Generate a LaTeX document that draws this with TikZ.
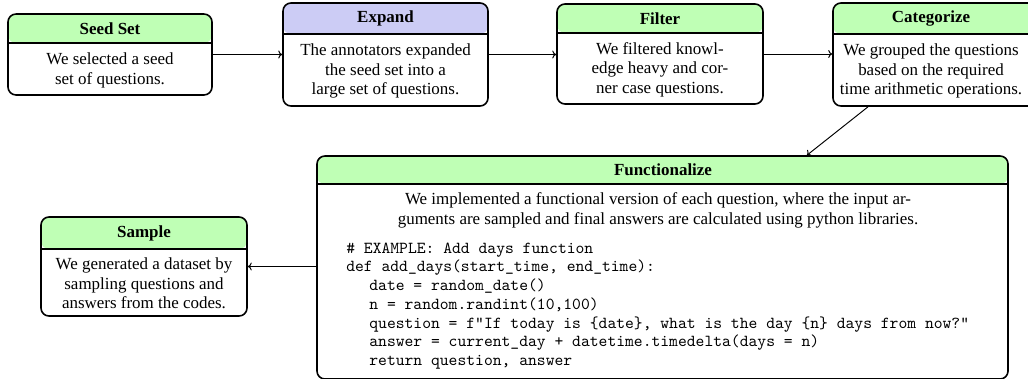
\documentclass[tikz,border=0pt]{standalone}
\usepackage{fontspec}
\setmainfont{Liberation Serif}
\usetikzlibrary{calc,arrows.meta}
\definecolor{hdrgreen}{RGB}{191,255,181}
\definecolor{hdrblue}{RGB}{204,204,245}
\tikzset{
  stagebox/.style 2 args={draw, line width=1pt, rounded corners=5pt, inner sep=0pt,
    path picture={\fill[#1] (path picture bounding box.north west) rectangle ([yshift=-#2]path picture bounding box.north east);
      \draw[line width=1pt] ([yshift=-#2]path picture bounding box.north west) -- ([yshift=-#2]path picture bounding box.north east);}},
  hdrtext/.style={font=\fontsize{10.6}{12.2}\selectfont\bfseries, inner sep=0pt},
  bodytext/.style={align=center, inner sep=0pt, font=\fontsize{10.6}{12.2}\selectfont},
  codetext/.style={align=left, inner sep=0pt, font=\fontsize{10.5}{11.7}\selectfont\ttfamily},
  flow/.style={-{To[length=2.5pt,width=5pt]}, line width=0.6pt},
}
\newcommand{\ind}{\hspace*{14.4pt}}
\begin{document}
\begin{tikzpicture}[x=0.625pt,y=-0.625pt]
\useasboundingbox (0,0) rectangle (1028,378);
% boxes
\node[stagebox={hdrgreen}{18.1pt}, minimum width=127.5pt, minimum height=50.6pt] (seed) at (110,54.5) {};
\node[stagebox={hdrblue}{19.4pt}, minimum width=128.1pt, minimum height=64.4pt] (expand) at (385.5,54.5) {};
\node[stagebox={hdrgreen}{18.1pt}, minimum width=128.75pt, minimum height=62.5pt] (filter) at (660,54) {};
\node[stagebox={hdrgreen}{19.4pt}, minimum width=128.75pt, minimum height=64.4pt] (cat) at (936,54.5) {};
\node[stagebox={hdrgreen}{17.5pt}, minimum width=431.9pt, minimum height=139.4pt] (func) at (662.5,267.5) {};
\node[stagebox={hdrgreen}{20pt}, minimum width=128.75pt, minimum height=61.9pt] (sample) at (144,266.5) {};
% headers
\node[hdrtext] (seedh) at (110,28.5) {Seed Set};
\node[hdrtext] (expandh) at (385.5,18.5) {Expand};
\node[hdrtext] (filterh) at (660,18.5) {Filter};
\node[hdrtext] (cath) at (931,18.5) {Categorize};
\node[hdrtext] (funch) at (663,170) {Functionalize};
\node[hdrtext] (sampleh) at (144,233) {Sample};
% bodies
\node[bodytext] (seedb) at (110,70.5) {We selected a seed\\set of questions.};
\node[bodytext] (expandb) at (385.5,71) {The annotators expanded\\the seed set into a\\large set of questions.};
\node[bodytext] (filterb) at (660,69.5) {We filtered knowl-\\edge heavy and cor-\\ner case questions.};
\node[bodytext] (catb) at (931,71) {We grouped the questions\\based on the required\\time arithmetic operations.};
\node[bodytext] (funcb) at (658,210.5) {We implemented a functional version of each question, where the input ar-\\guments are sampled and final answers are calculated using python libraries.};
\node[codetext, anchor=west] (code) at (346,306) {\# EXAMPLE: Add days function\\
def add\_days(start\_time, end\_time):\\
\ind date = random\_date()\\
\ind n = random.randint(10,100)\\
\ind question = f"If today is \{date\}, what is the day \{n\} days from now?"\\
\ind answer = current\_day + datetime.timedelta(days = n)\\
\ind return question, answer};
\node[bodytext] (sampleb) at (144,283.5) {We generated a dataset by\\sampling questions and\\answers from the codes.};
% connectors
\draw[flow] (seed.east) -- (expand.west);
\draw[flow] (expand.east) -- (expand.east -| filter.west);
\draw[flow] (filter.east) -- (filter.east -| cat.west);
\draw[flow] ([xshift=-42.5pt]cat.south) -- ([xshift=90.3pt]func.north);
\draw[flow] (func.west |- sample.east) -- (sample.east);
\end{tikzpicture}
\end{document}
